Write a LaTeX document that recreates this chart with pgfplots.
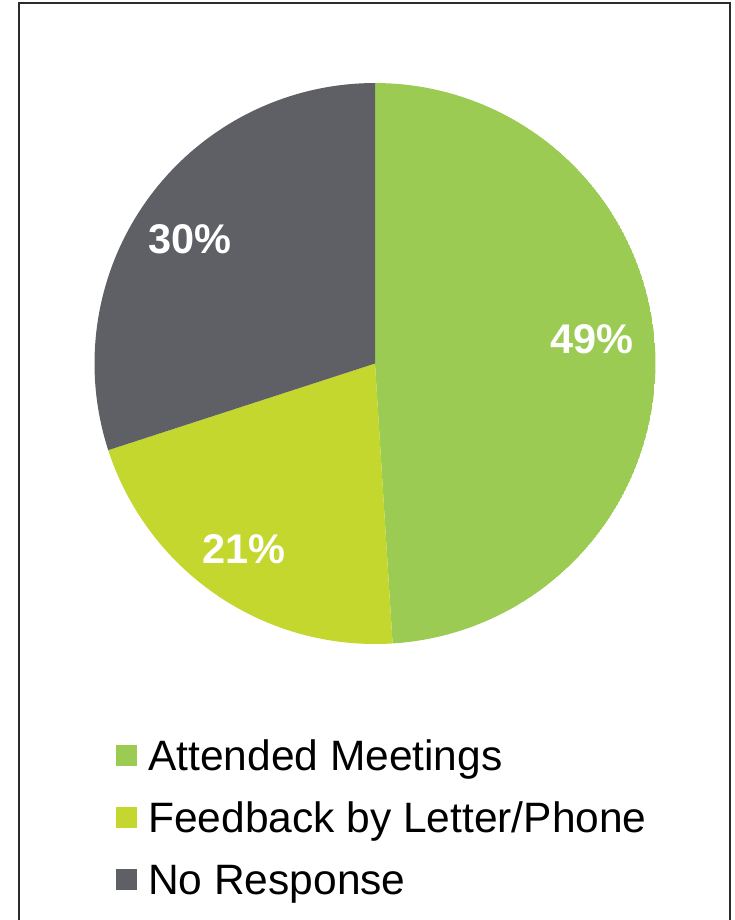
\documentclass[border=0pt]{standalone}
\usepackage{pgfplots}
\pgfplotsset{compat=1.18}
\usepgfplotslibrary{polar}
\usepackage{fontspec}
\setmainfont{Liberation Sans}

\definecolor{cMeet}{HTML}{9BCB53}
\definecolor{cFeed}{HTML}{C4D72E}
\definecolor{cNone}{HTML}{5F6065}
\definecolor{cFrame}{HTML}{2B2B2B}

% shares in percent, slices run clockwise from 12 o'clock
\def\pMeet{49}
\def\pFeed{21}
\def\pNone{30}

\begin{document}
\begin{tikzpicture}
\path[use as bounding box] (0bp,0bp) rectangle (735bp,-920bp);
\draw[cFrame, line width=2bp] (19bp,-3bp) rectangle (730bp,-940bp);

\begin{polaraxis}[
    at={(375bp,-363.5bp)}, anchor=center,
    scale only axis, width=561bp, height=561bp,
    hide axis,
    ymin=0, ymax=1,
    xmin=0, xmax=360,
    legend cell align=left,
    legend image code/.code={\fill[#1] (0bp,-5bp) rectangle (21bp,16bp);},
    legend style={
        at={(0.0383,-0.1533)}, anchor=north west,
        draw=none, fill=none, inner sep=0pt,
        font=\fontsize{42.5bp}{50bp}\selectfont,
        row sep=0pt,
        nodes={inner sep=0pt, text height=40bp, text depth=22bp},
        /tikz/every odd column/.append style={column sep=11bp},
    },
]
\addplot[fill=cMeet, draw=none, domain={90-3.6*\pMeet}:90, samples=120] {1} -- (0,0) -- cycle;
\addlegendentry{Attended Meetings}
\addplot[fill=cFeed, draw=none, domain={90-3.6*(\pMeet+\pFeed)}:{90-3.6*\pMeet}, samples=60] {1} -- (0,0) -- cycle;
\addlegendentry{Feedback by Letter/Phone}
\addplot[fill=cNone, draw=none, domain={90-3.6*(\pMeet+\pFeed+\pNone)}:{90-3.6*(\pMeet+\pFeed)}, samples=80] {1} -- (0,0) -- cycle;
\addlegendentry{No Response}

\begin{scope}[font=\bfseries\fontsize{41.5bp}{50bp}\selectfont, text=white]
\node at (axis cs:6.5,0.780) {49\%};
\node at (axis cs:-125.2,0.811) {21\%};
\node at (axis cs:146.2,0.794) {30\%};
\end{scope}
\end{polaraxis}
\end{tikzpicture}
\end{document}
